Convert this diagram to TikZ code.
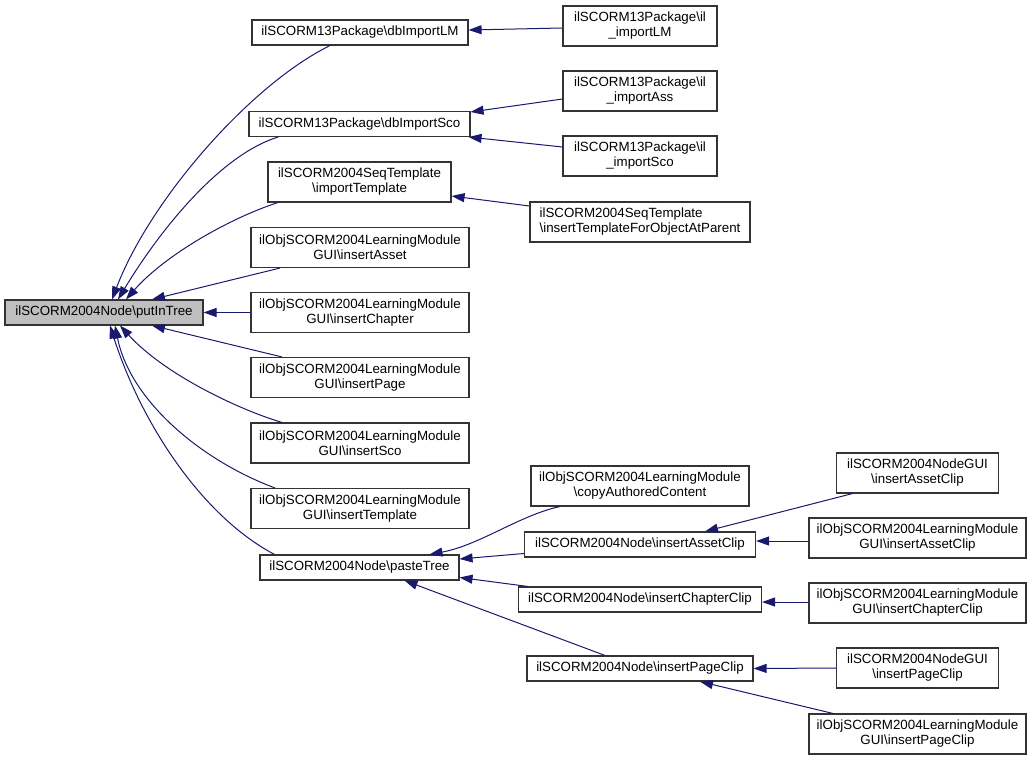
\documentclass[tikz,border=0pt]{standalone}
\usepackage{fontspec}
\setmainfont{Liberation Sans}
\usetikzlibrary{arrows.meta}
\definecolor{edgeblue}{HTML}{191970}
\definecolor{rootgray}{HTML}{BFBFBF}
\definecolor{boxline}{HTML}{333333}
\begin{document}
\begin{tikzpicture}[x=1pt,y=-1pt,
  box/.style={draw=boxline,line width=1.1pt,fill=white,rectangle,inner sep=0pt,align=center,
    font=\fontsize{13.33}{15}\selectfont},
  one/.style={box,minimum height=25pt},
  two/.style={box,minimum height=40pt},
  edge/.style={draw=edgeblue,line width=1pt,-{Triangle[length=13pt,width=9pt,fill=edgeblue]}}]
\useasboundingbox[fill=white] (0,0) rectangle (1032,760);
% column 1
\node[one,fill=rootgray,minimum width=198pt] (put) at (104,312.5) {ilSCORM2004Node\textbackslash putInTree};
% column 2
\node[one,minimum width=216pt] (dblm) at (360,32.5) {ilSCORM13Package\textbackslash dbImportLM};
\node[one,minimum width=221pt] (dbsco) at (359.5,124) {ilSCORM13Package\textbackslash dbImportSco};
\node[two,minimum width=183pt] (imptpl) at (359.5,182) {ilSCORM2004SeqTemplate\\\textbackslash importTemplate};
\node[two,minimum width=218pt] (insasset) at (360,247.5) {ilObjSCORM2004LearningModule\\GUI\textbackslash insertAsset};
\node[two,minimum width=218pt] (inschap) at (360,312.5) {ilObjSCORM2004LearningModule\\GUI\textbackslash insertChapter};
\node[two,minimum width=218pt] (inspage) at (360,377.5) {ilObjSCORM2004LearningModule\\GUI\textbackslash insertPage};
\node[two,minimum width=218pt] (inssco) at (360,443) {ilObjSCORM2004LearningModule\\GUI\textbackslash insertSco};
\node[two,minimum width=218pt] (instpl) at (360,508.5) {ilObjSCORM2004LearningModule\\GUI\textbackslash insertTemplate};
\node[one,minimum width=199pt] (paste) at (359.5,567.5) {ilSCORM2004Node\textbackslash pasteTree};
% column 3
\node[two,minimum width=154pt] (illm) at (640,26) {ilSCORM13Package\textbackslash il\\\_importLM};
\node[two,minimum width=154pt] (ilass) at (640,91) {ilSCORM13Package\textbackslash il\\\_importAss};
\node[two,minimum width=154pt] (ilsco) at (640,156) {ilSCORM13Package\textbackslash il\\\_importSco};
\node[two,minimum width=220pt,align=left] (tfp) at (640,222) {ilSCORM2004SeqTemplate\\\textbackslash insertTemplateForObjectAtParent};
\node[two,minimum width=218pt] (copy) at (640,486) {ilObjSCORM2004LearningModule\\\textbackslash copyAuthoredContent};
\node[one,minimum width=231pt] (nasset) at (640,544.5) {ilSCORM2004Node\textbackslash insertAssetClip};
\node[one,minimum width=243pt] (nchap) at (640,599.5) {ilSCORM2004Node\textbackslash insertChapterClip};
\node[one,minimum width=226pt] (npage) at (640,668.5) {ilSCORM2004Node\textbackslash insertPageClip};
% column 4
\node[two,minimum width=162pt] (gasset) at (917.5,473) {ilSCORM2004NodeGUI\\\textbackslash insertAssetClip};
\node[two,minimum width=217pt] (lasset) at (917.5,538) {ilObjSCORM2004LearningModule\\GUI\textbackslash insertAssetClip};
\node[two,minimum width=217pt] (lchap) at (917.5,603) {ilObjSCORM2004LearningModule\\GUI\textbackslash insertChapterClip};
\node[two,minimum width=162pt] (gpage) at (917.5,668) {ilSCORM2004NodeGUI\\\textbackslash insertPageClip};
\node[two,minimum width=217pt] (lpage) at (917.5,734) {ilObjSCORM2004LearningModule\\GUI\textbackslash insertPageClip};
% edges into putInTree
\draw[edge] ([shift={(-30,0)}]dblm.south) .. controls (250,85) and (150,200) .. ([shift={(8,0)}]put.north);
\draw[edge] ([shift={(-81.5,0)}]dbsco.south) .. controls (220,155) and (160,230) .. ([shift={(14,0)}]put.north);
\draw[edge] ([shift={(-81.5,0)}]imptpl.south) .. controls (230,218) and (165,255) .. ([shift={(22,0)}]put.north);
\draw[edge] ([shift={(-80,0)}]insasset.south) -- ([shift={(48,0)}]put.north);
\draw[edge] (inschap.west) -- (put.east);
\draw[edge] ([shift={(-78,0)}]inspage.north) -- ([shift={(48,0)}]put.south);
\draw[edge] ([shift={(-78,0)}]inssco.north) .. controls (240,410) and (165,375) .. ([shift={(16,0)}]put.south);
\draw[edge] ([shift={(-85,0)}]instpl.north) .. controls (200,460) and (130,400) .. ([shift={(11,0)}]put.south);
\draw[edge] ([shift={(-85,0)}]paste.north) .. controls (200,515) and (140,420) .. ([shift={(6,0)}]put.south);
% upper right edges
\draw[edge] ([shift={(0,2)}]illm.west) -- ([shift={(0,-2.5)}]dblm.east);
\draw[edge] ([shift={(0,8)}]ilass.west) -- ([shift={(0,-12)}]dbsco.east);
\draw[edge] ([shift={(0,-9)}]ilsco.west) -- ([shift={(-2,0)}]dbsco.south east);
\draw[edge] ([shift={(0,-16)}]tfp.west) -- ([shift={(0,14)}]imptpl.east);
% edges into pasteTree
\draw[edge] ([shift={(-80,0)}]copy.south) .. controls (520,515) and (480,545) .. ([shift={(70,0)}]paste.north);
\draw[edge] ([shift={(0,9)}]nasset.west) -- ([shift={(0,-8.5)}]paste.east);
\draw[edge] ([shift={(10,0)}]nchap.north west) -- ([shift={(0,10)}]paste.east);
\draw[edge] ([shift={(-35,0)}]npage.north) -- ([shift={(45,0)}]paste.south);
% column 4 edges
\draw[edge] ([shift={(-65,0)}]gasset.south) -- ([shift={(65,0)}]nasset.north);
\draw[edge] ([shift={(0,3)}]lasset.west) -- ([shift={(0,-3.5)}]nasset.east);
\draw[edge] ([shift={(0,-1)}]lchap.west) -- ([shift={(0,2.5)}]nchap.east);
\draw[edge] (gpage.west) -- (npage.east);
\draw[edge] ([shift={(-84.5,0)}]lpage.north) -- ([shift={(60,0)}]npage.south);
\end{tikzpicture}
\end{document}
